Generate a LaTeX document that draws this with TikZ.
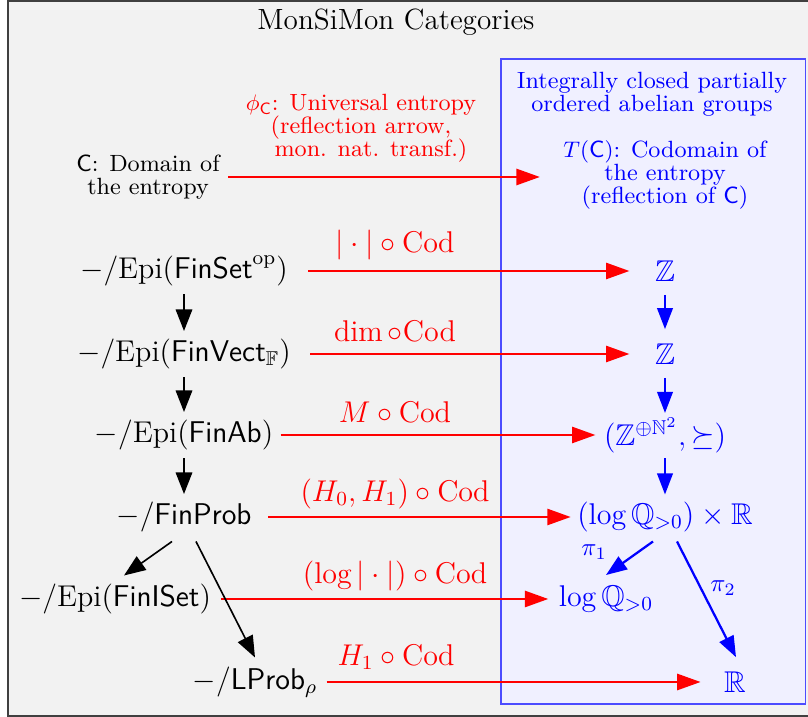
\documentclass[tikz,border=0pt]{standalone}
\usepackage{fontspec}
\usepackage{amssymb}
\usetikzlibrary{arrows.meta,calc}
\setlength{\lineskiplimit}{-20pt}
\begin{document}
\begin{tikzpicture}[x=0.4pt,y=-0.4pt,
  mainfont/.style={font=\fontsize{12}{14}\selectfont},
  smallfont/.style={font=\fontsize{9.4}{9.2}\selectfont},
  lnode/.style={mainfont, inner sep=0pt, text height=9pt, text depth=3pt},
  rnode/.style={mainfont, inner sep=0pt, text=blue},
  lab/.style={mainfont, inner sep=0pt, text=red},
  pilab/.style={font=\fontsize{10}{12}\selectfont, text=blue, inner sep=0pt},
  redarr/.style={draw=red, line width=1.1pt, -{Triangle[length=9.4pt,width=6.4pt]}},
  bluearr/.style={draw=blue, line width=0.9pt, -{Triangle[length=8.4pt,width=6.2pt]}},
  blackarr/.style={draw=black, line width=0.65pt, -{Triangle[length=8.6pt,width=6.6pt]}},
]
\useasboundingbox (0,0) rectangle (808,717);
\draw[fill=black!5, draw=black!75, line width=0.6pt] (8,1.2) rectangle (812,716);
\draw[fill=blue!6, draw=blue!70, line width=0.5pt] (501,59) rectangle (805.5,704);

\node[font=\fontsize{11.7}{14}\selectfont] (title) at (396,22) {MonSiMon Categories};
\node[smallfont, text=blue, align=center, inner sep=0pt] (grp) at (652,94) {Integrally closed partially\\ordered abelian groups};

\node[smallfont, align=center, inner sep=0pt] (C) at (148,177) {$\mathsf{C}$: Domain of\\the entropy};
\node[smallfont, align=center, text=blue, inner sep=0pt] (T) at (665,175) {$T(\mathsf{C})$: Codomain of\\the entropy\\(reflection of $\mathsf{C}$)};
\node[smallfont, align=center, text=red, inner sep=0pt] (phi) at (361,128) {$\phi_{\mathsf{C}}$: Universal entropy\\(reflection arrow,\\\hspace*{8pt}mon. nat. transf.)};

\node[lnode] (a1) at (184,271) {$-/\mathrm{Epi}(\mathsf{FinSet}^{\mathrm{op}})$};
\node[lnode] (a2) at (184,354) {$-/\mathrm{Epi}(\mathsf{FinVect}_{\mathbb{F}})$};
\node[lnode] (a3) at (184,435) {$-/\mathrm{Epi}(\mathsf{FinAb})$};
\node[lnode] (a4) at (184,517) {$-/\mathsf{FinProb}$};
\node[lnode] (a5) at (115,599) {$-/\mathrm{Epi}(\mathsf{FinISet})$};
\node[lnode] (a6) at (255,682) {$-/\mathsf{LProb}_{\rho}$};

\node[rnode] (b1) at (665,271) {$\mathbb{Z}$};
\node[rnode] (b2) at (665,354) {$\mathbb{Z}$};
\node[rnode] (b3) at (665,435) {$(\mathbb{Z}^{\oplus\mathbb{N}^2},\succeq)$};
\node[rnode] (b4) at (665,517) {$(\log\mathbb{Q}_{>0})\times\mathbb{R}$};
\node[rnode] (b5) at (606,599) {$\log\mathbb{Q}_{>0}$};
\node[rnode] (b6) at (735,682) {$\mathbb{R}$};

\node[lab] (l1) at (395,245) {$|\cdot|\circ\mathrm{Cod}$};
\node[lab] (l2) at (395,331) {$\dim\circ$Cod};
\node[lab] (l3) at (395,412) {$M\circ\mathrm{Cod}$};
\node[lab] (l4) at (395,494) {$(H_0,H_1)\circ\mathrm{Cod}$};
\node[lab] (l5) at (395,576) {$(\log|\cdot|)\circ\mathrm{Cod}$};
\node[lab] (l6) at (396,657) {$H_1\circ\mathrm{Cod}$};

\node[pilab] (p1) at (594,552) {$\pi_1$};
\node[pilab] (p2) at (723,588) {$\pi_2$};

% red arrows
\draw[redarr, shorten <=3.2pt, shorten >=9.2pt] (C.east) -- (C.east -| T.west);
\draw[redarr, shorten <=8pt, shorten >=10pt] (a1.east) -- (b1.west);
\draw[redarr, shorten <=7.6pt, shorten >=10pt] (a2.east) -- (b2.west);
\draw[redarr, shorten <=2.8pt, shorten >=3.2pt] (a3.east) -- (b3.west);
\draw[redarr, shorten <=6.4pt, shorten >=2.4pt] (a4.east) -- (b4.west);
\draw[redarr, shorten <=4pt, shorten >=4pt] (a5.east) -- (b5.west);
\draw[redarr, shorten <=3.6pt, shorten >=9.2pt] (a6.east) -- (b6.west);

% black arrows
\draw[blackarr, shorten <=3.2pt, shorten >=3pt] (a1.south) -- (a2.north);
\draw[blackarr, shorten <=3.2pt, shorten >=3pt] (a2.south) -- (a3.north);
\draw[blackarr, shorten <=3.2pt, shorten >=3pt] (a3.south) -- (a4.north);
\draw[blackarr] ($(a4.south)+(-12,9)$) -- ($(a5.north)+(9,-8)$);
\draw[blackarr] ($(a4.south)+(12,9)$) -- ($(a6.north)+(0,-9)$);

% blue arrows
\draw[bluearr, shorten <=5.2pt, shorten >=5.6pt] (b1.south) -- (b2.north);
\draw[bluearr, shorten <=5.2pt, shorten >=1.6pt] (b2.south) -- (b3.north);
\draw[bluearr, shorten <=2pt, shorten >=2.8pt] (b3.south) -- (b4.north);
\draw[bluearr] ($(b4.south)+(-12,9)$) -- ($(b5.north)+(0,-10)$);
\draw[bluearr] ($(b4.south)+(12,9)$) -- ($(b6.north)+(1,-14)$);
\end{tikzpicture}
\end{document}
